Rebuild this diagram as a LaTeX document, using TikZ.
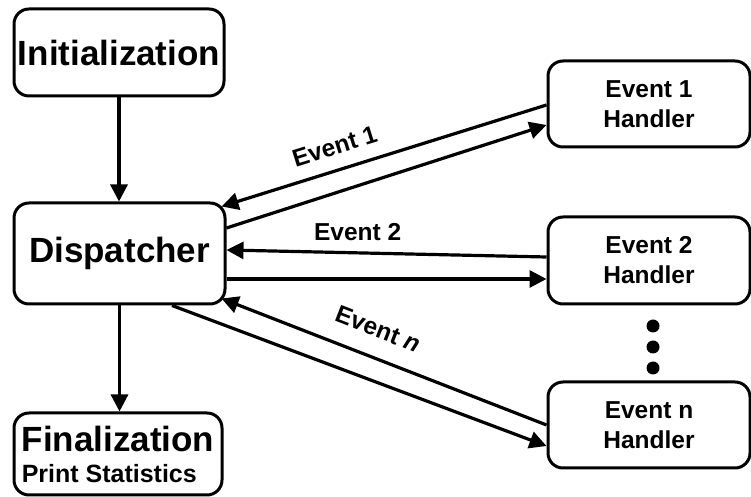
\documentclass[tikz,border=0pt]{standalone}
\usepackage{fontspec}
\setmainfont{Liberation Sans}
\usetikzlibrary{arrows.meta}

\begin{document}
\begin{tikzpicture}[x=1pt, y=1pt,
        box/.style={draw, line width=3pt, rounded corners=15pt, inner sep=0pt, align=center},
        link/.style={line width=3.2pt, -{Triangle[length=17pt, width=17pt]}},
        lbl/.style={font=\fontsize{24.5}{29}\selectfont\bfseries, inner sep=0pt}]
    \useasboundingbox (0, 0) rectangle (751, 497);
    % left column
    \node[box, minimum width=210pt, minimum height=87pt, font=\fontsize{35}{40}\selectfont\bfseries] (init) at (119, 444.5) {Initialization};
    \node[box, minimum width=211pt, minimum height=101pt, font=\fontsize{35}{40}\selectfont\bfseries] (disp) at (119.5, 243.5) {Dispatcher};
    \node[box, minimum width=208pt, minimum height=82pt, align=left, font=\fontsize{35}{31}\selectfont\bfseries] (fin) at (118, 43) {Finalization\\{\fontsize{25}{31}\selectfont Print Statistics}};
    % handlers
    \node[box, minimum width=202pt, minimum height=86pt, font=\fontsize{24.5}{30}\selectfont\bfseries] (ev1) at (649, 393) {Event 1\\Handler};
    \node[box, minimum width=202pt, minimum height=87pt, font=\fontsize{24.5}{30}\selectfont\bfseries] (ev2) at (649, 236.5) {Event 2\\Handler};
    \node[box, minimum width=202pt, minimum height=86pt, font=\fontsize{24.5}{30}\selectfont\bfseries] (evn) at (649, 72) {Event n\\Handler};
    \foreach \y in {129, 150, 171}
        \fill[black] (653, \y) circle (6.5);
    % flow
    \draw[link] (init.south) -- (init.south |- disp.north);
    \draw[link] (disp.south) -- (disp.south |- fin.north);
    % events
    \draw[link] ([yshift=-1pt]ev1.west) -- ([shift={(-5pt,-5pt)}]disp.north east) node[lbl, pos=0.63, sloped, above=13.5pt] (l1) {Event 1};
    \draw[link] ([yshift=25.5pt]disp.east) -- ([yshift=-21pt]ev1.west);
    \draw[link] ([yshift=3.5pt]ev2.west) -- ([yshift=3.5pt]disp.east) node[lbl, pos=0.59, above=11pt] (l2) {Event 2};
    \draw[link] ([yshift=-25.5pt]disp.east) -- ([yshift=-18.5pt]ev2.west);
    \draw[link] (evn.west) -- ([shift={(-5pt,7pt)}]disp.south east) node[lbl, pos=0.55, sloped, above=18pt] (ln) {Event \textit{n}};
    \draw[link] ([xshift=52.5pt]disp.south) -- ([yshift=-21pt]evn.west);
\end{tikzpicture}
\end{document}
